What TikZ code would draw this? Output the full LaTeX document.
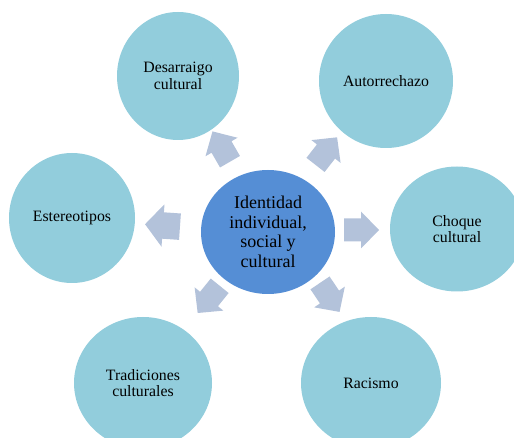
\documentclass[tikz,border=0pt]{standalone}
\usepackage{fontspec}
\setmainfont{Liberation Serif}
\usetikzlibrary{shapes.geometric}
\definecolor{outerfill}{HTML}{92CDDC}
\definecolor{centerfill}{HTML}{558ED5}
\definecolor{arrowfill}{HTML}{B3C2DA}
\tikzset{
  outer/.style={ellipse, fill=outerfill, inner sep=0pt, align=center,
    font=\fontsize{15.8}{16.5}\selectfont, text=black},
  hub/.style={ellipse, fill=centerfill, inner sep=0pt, align=center,
    minimum width=134pt, minimum height=124pt,
    font=\fontsize{18}{19.5}\selectfont, text=black},
  barrow/.pic={\fill[arrowfill] (-17,-11.5) -- (0,-11.5) -- (0,-18.5) -- (18,0) -- (0,18.5) -- (0,11.5) -- (-17,11.5) -- cycle;}
}
\begin{document}
\begin{tikzpicture}[x=1pt,y=1pt]
\useasboundingbox (0,0) rectangle (514,-438);
\clip (0,0) rectangle (514,-438);
\node[hub] (c) at (268,-232) {Identidad\\individual,\\social y\\cultural};
\node[outer, minimum width=122pt, minimum height=128pt] (d1) at (178,-76) {Desarraigo\\cultural};
\node[outer, minimum width=134pt, minimum height=134pt] (d2) at (386,-81) {Autorrechazo};
\node[outer, minimum width=126pt, minimum height=130pt] (d3) at (72,-218) {Estereotipos};
\node[outer, minimum width=134pt, minimum height=125pt] (d4) at (457,-229) {Choque\\cultural};
\node[outer, minimum width=138pt, minimum height=132pt] (d5) at (143,-383) {Tradiciones\\culturales};
\node[outer, minimum width=140pt, minimum height=132pt] (d6) at (371,-383) {Racismo};
\pic[rotate=120] at (221.5,-147) {barrow};
\pic[rotate=52] at (326,-151.5) {barrow};
\pic[rotate=176, yscale=1.15] at (163,-225.5) {barrow};
\pic[rotate=0] at (361,-230) {barrow};
\pic[rotate=231] at (209,-299) {barrow};
\pic[rotate=-56] at (329.5,-297) {barrow};
\end{tikzpicture}
\end{document}
